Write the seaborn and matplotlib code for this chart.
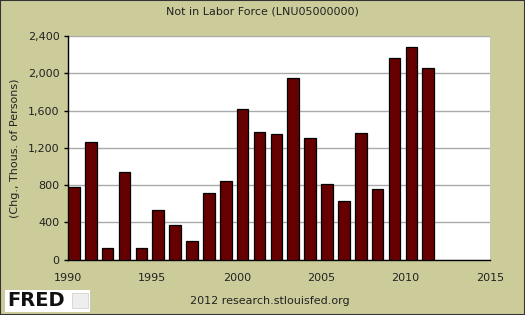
import matplotlib
matplotlib.use("Agg")
import matplotlib.pyplot as plt
import matplotlib.ticker as mticker
from matplotlib.patches import Rectangle
import seaborn as sns
import pandas as pd
import numpy as np

years = [1990, 1991, 1992, 1993, 1994, 1995, 1996, 1997, 1998, 1999, 2000,
         2001, 2002, 2003, 2004, 2005, 2006, 2007, 2008, 2009, 2010, 2011]
values = [780, 1260, 120, 940, 120, 530, 370, 200, 715, 845, 1615,
          1365, 1345, 1948, 1300, 807, 624, 1356, 753, 2163, 2281, 2055]
x_ticks = [1990, 1995, 2000, 2005, 2010, 2015]
y_ticks = [0, 400, 800, 1200, 1600, 2000, 2400]

BG = "#CCCC9A"
BAR = "#660000"

sns.set_theme(style="white")
plt.rcParams["font.family"] = ["DejaVu Sans"]

fig = plt.figure(figsize=(5.25, 3.15), dpi=100, facecolor=BG)
ax = fig.add_axes([68 / 525, 1 - 259.5 / 315, (490 - 68) / 525, (259.5 - 36) / 315])
ax.set_facecolor("white")

bar_w = 0.69
df = pd.DataFrame({"pos": np.array(years) + bar_w / 2, "val": values})
sns.barplot(data=df, x="pos", y="val", native_scale=True, width=bar_w,
            color=BAR, saturation=1, edgecolor="black", linewidth=0.9, ax=ax,
            zorder=3)

ax.set_xlim(1990, 2015)
ax.set_ylim(0, 2400)
ax.set_xticks(x_ticks)
ax.set_yticks(y_ticks)
ax.yaxis.set_major_formatter(mticker.FuncFormatter(lambda v, p: f"{int(v):,}"))
ax.grid(axis="y", color="#AAAAAA", linewidth=1, zorder=0)
ax.set_axisbelow(True)
for s in ["top", "right"]:
    ax.spines[s].set_visible(False)
ax.spines["left"].set_color("black")
ax.spines["bottom"].set_color("black")
ax.spines["left"].set_linewidth(1)
ax.spines["bottom"].set_linewidth(1)
ax.tick_params(axis="y", left=True, length=3, width=1, color="black",
               labelsize=8, labelcolor="#222222", pad=3)
ax.tick_params(axis="x", bottom=False, labelsize=8, labelcolor="#222222", pad=4)
ax.set_xlabel("")
ax.set_ylabel("(Chg., Thous. of Persons)", fontsize=8, color="#222222", labelpad=6)

fig.text(0.5, 1 - 11 / 315, "Not in Labor Force (LNU05000000)", ha="center",
         va="center", fontsize=8, color="#222222")
fig.text(270 / 525, 1 - 301 / 315, "2012 research.stlouisfed.org", ha="center",
         va="center", fontsize=8, color="#222222")

# FRED logo box
fig.patches.append(Rectangle((5 / 525, 1 - 312 / 315), 85 / 525, 22 / 315,
                             transform=fig.transFigure, facecolor="white",
                             edgecolor="none"))
fig.text(7 / 525, 1 - 300.5 / 315, "FRED", ha="left", va="center", fontsize=14,
         fontweight="heavy", color="#111111")
fig.patches.append(Rectangle((72 / 525, 1 - 308 / 315), 16 / 525, 15 / 315,
                             transform=fig.transFigure, facecolor="#EEEEEE",
                             edgecolor="#CCCCCC", linewidth=0.5))

# outer border
fig.patches.append(Rectangle((0, 0), 1, 1, transform=fig.transFigure,
                             facecolor="none", edgecolor="#333333", linewidth=1.5))

fig.savefig("out.png", dpi=100, facecolor=BG)
